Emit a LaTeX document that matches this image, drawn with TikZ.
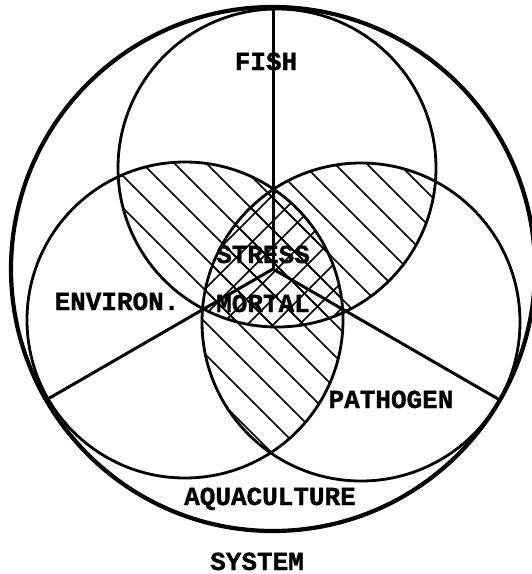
\documentclass[tikz,border=0pt]{standalone}
\usepackage{fontspec}
\newfontfamily\labfont{Liberation Mono}[BoldFeatures={FakeBold=1.2}]
\usetikzlibrary{calc}
\begin{document}
\begin{tikzpicture}[x=1pt,y=-1pt,
  lab/.style={font=\labfont\bfseries\fontsize{26}{26}\selectfont, inner sep=0pt, anchor=base},
  ring/.style={line width=2.8pt},
  rim/.style={line width=4.2pt},
  spoke/.style={line width=3pt},
  hatchline/.style={line width=1.5pt}]
\useasboundingbox (0,0) rectangle (532,574);
\coordinate (O) at (273,269);
\coordinate (F) at (277,168);
\coordinate (E) at (185,320);
\coordinate (P) at (361,322);
\coordinate (top) at ($(O)+(90:262pt)$);
\coordinate (sw) at ($(O)+(210:262pt)$);
\coordinate (se) at ($(O)+(330:262pt)$);
\def\hatchA{\foreach \c in {-576,-544,...,1160} {\draw[hatchline] (\c+11,0) -- (\c+585,574);}}
\def\hatchB{\foreach \c in {-26,0,...,1160} {\draw[hatchline] (\c,0) -- (\c-574,574);}}
% single hatching of the pairwise overlaps
\begin{scope}
  \clip (F) circle[radius=159pt];
  \clip (E) circle[radius=158pt];
  \hatchA
\end{scope}
\begin{scope}
  \clip (F) circle[radius=159pt];
  \clip (P) circle[radius=159pt];
  \hatchA
\end{scope}
\begin{scope}
  \clip (E) circle[radius=158pt];
  \clip (P) circle[radius=159pt];
  \hatchA
\end{scope}
% cross hatching of the triple overlap
\begin{scope}
  \clip (F) circle[radius=159pt];
  \clip (E) circle[radius=158pt];
  \clip (P) circle[radius=159pt];
  \hatchB
\end{scope}
% circles
\draw[rim] (O) circle[radius=262pt];
\draw[ring] (F) circle[radius=159pt];
\draw[ring] (E) circle[radius=158pt];
\draw[ring] (P) circle[radius=159pt];
% spokes
\draw[spoke] (O) -- (top);
\draw[spoke] (O) -- (sw);
\draw[spoke] (O) -- (se);
% labels
\node[lab] (fish) at (266,70) {FISH};
\node[lab] (env) at (117,310) {ENVIRON.};
\node[lab] (stress) at (263,263) {STRESS};
\node[lab] (mortal) at (263,312) {MORTAL};
\node[lab] (path) at (391,408) {PATHOGEN};
\node[lab] (aqua) at (270,505) {AQUACULTURE};
\node[lab] (sys) at (257,570) {SYSTEM};
\end{tikzpicture}
\end{document}
